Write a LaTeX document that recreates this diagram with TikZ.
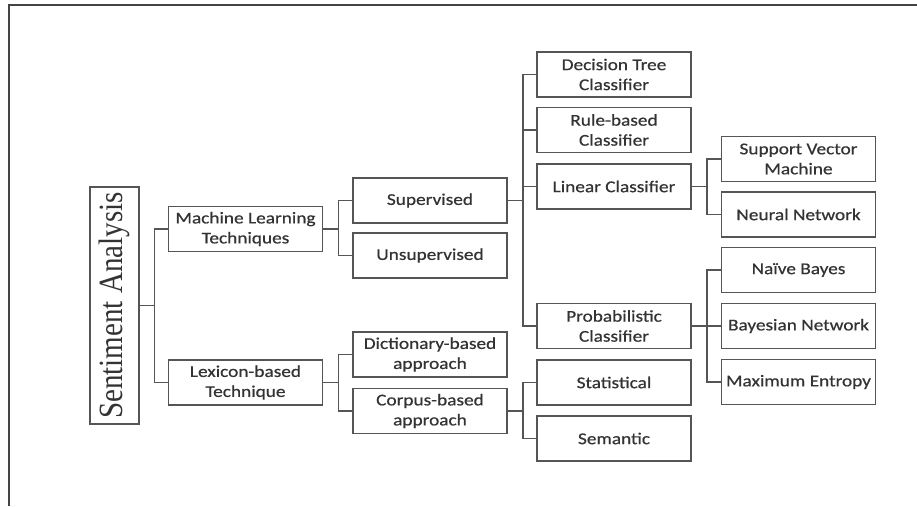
\documentclass[tikz,border=0pt]{standalone}
\usepackage{fontspec}
\setmainfont{Carlito}[FakeStretch=1.17, FakeBold=0.6]
\newfontfamily\saserif{Liberation Serif}
\definecolor{ln}{HTML}{555555}
\definecolor{tx}{HTML}{333333}
\definecolor{fr}{HTML}{444444}
\tikzset{
  box/.style={draw=ln, line width=1.5pt, minimum width=154pt, minimum height=45pt,
    inner sep=0pt, align=center, text=tx, font=\fontsize{16.5}{20}\selectfont},
  sabox/.style={draw=ln, line width=1.5pt, minimum width=49pt, minimum height=237pt,
    inner sep=0pt, text=tx, font=\saserif\fontsize{29}{30}\selectfont},
  link/.style={draw=ln, line width=1.5pt},
}
\begin{document}
\begin{tikzpicture}[x=1pt, y=-1pt]
\useasboundingbox (0,0) rectangle (917,506);
\draw[fr, line width=2pt] (8.5,506) -- (8.5,4.5) -- (917,4.5);

\node[sabox] (SA) at (114.5,305.5) {\rotatebox{90}{\scalebox{1}[1.17]{Sentiment Analysis}}};

\node[box] (ML) at (245.5,229) {Machine Learning\\Techniques};
\node[box] (LX) at (245.5,382.5) {Lexicon-based\\Technique};

\node[box] (SUP) at (430,200.5) {Supervised};
\node[box] (UNS) at (430,255.5) {Unsupervised};
\node[box] (DIC) at (430,354.5) {Dictionary-based\\approach};
\node[box] (COR) at (430,411) {Corpus-based\\approach};

\node[box] (DT) at (614,74.5) {Decision Tree\\Classifier};
\node[box] (RB) at (614,130) {Rule-based\\Classifier};
\node[box] (LIN) at (614,186.5) {Linear Classifier};
\node[box] (PRO) at (614,326) {Probabilistic\\Classifier};
\node[box] (STA) at (614,382.5) {Statistical};
\node[box] (SEM) at (614,438.5) {Semantic};

\node[box] (SVM) at (798.5,159) {Support Vector\\Machine};
\node[box] (NN) at (798.5,214.5) {Neural Network};
\node[box] (NB) at (798.5,270) {Na\"ive Bayes};
\node[box] (BN) at (798.5,326) {Bayesian Network};
\node[box] (ME) at (798.5,382) {Maximum Entropy};

\foreach \p/\c in {SA/ML, SA/LX}
  \draw[link] (\p.east) -- ++(14.5,0) |- (\c.west);
\foreach \p/\c in {ML/SUP, ML/UNS, LX/DIC, LX/COR, SUP/DT, SUP/RB, SUP/LIN, SUP/PRO,
                   COR/STA, COR/SEM, LIN/SVM, LIN/NN, PRO/NB, PRO/BN, PRO/ME}
  \draw[link] (\p.east) -- ++(15,0) |- (\c.west);
\end{tikzpicture}
\end{document}
